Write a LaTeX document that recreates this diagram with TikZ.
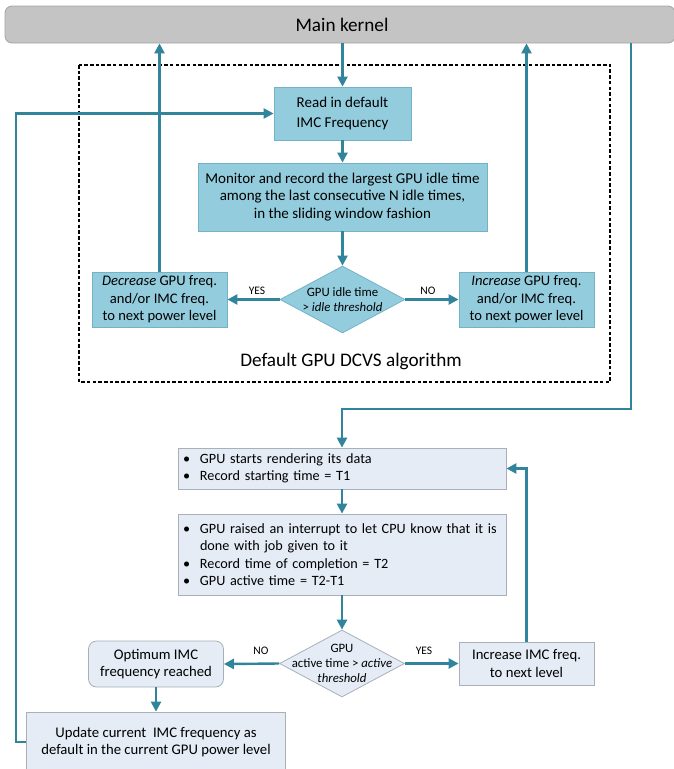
\documentclass[tikz,border=0pt]{standalone}
\usepackage{fontspec}
\setmainfont{Carlito}
\usepackage{xcolor}
\usetikzlibrary{arrows.meta}
\usetikzlibrary{shapes.geometric}

\definecolor{tealfill}{HTML}{93CDDD}
\definecolor{tealedge}{HTML}{72B3C7}
\definecolor{flowteal}{HTML}{31849B}
\definecolor{palefill}{HTML}{E5ECF6}
\definecolor{paleedge}{HTML}{A8B0B8}
\definecolor{kernelfill}{HTML}{C4C4C4}
\definecolor{kerneledge}{HTML}{A3A3A3}

\newcommand{\bul}{\makebox[17pt][l]{\textbullet}}

\begin{document}
\begin{tikzpicture}[x=1pt,y=-1pt,
    tealbox/.style={draw=tealedge,fill=tealfill,line width=0.8pt,align=center,inner sep=2pt,
                    font=\fontsize{14.6}{17.5}\selectfont},
    palebox/.style={draw=paleedge,fill=palefill,line width=0.8pt,align=center,inner sep=2pt,
                    font=\fontsize{14.7}{17.5}\selectfont},
    listbox/.style={palebox,align=left,inner xsep=5pt,text width=318pt,
                    font=\fontsize{14.2}{17.5}\selectfont},
    decision/.style={diamond,draw=#1,line width=0.8pt,inner sep=0pt},
    dtext/.style={font=\fontsize{12.8}{14.8}\selectfont,align=center,inner sep=0pt},
    answer/.style={font=\fontsize{11.5}{13}\selectfont,inner sep=0pt},
    title/.style={font=\fontsize{19.2}{22}\selectfont},
    flow/.style={draw=flowteal,line width=2.4pt,-{Triangle[length=10pt,width=10pt]}},
    dashframe/.style={draw=black,line width=2.2pt,dash pattern=on 3.5pt off 2.2pt}]
  \useasboundingbox (0,0) rectangle (673,769);

  % top part
  \node[title,draw=kerneledge,fill=kernelfill,line width=0.8pt,rounded corners=7pt,
        minimum width=670pt,minimum height=37pt,inner sep=0pt] (kernel) at (340,24.5) {};
  \node[title] (kerneltext) at (342,24.5) {Main kernel};
  \draw[dashframe] (79,65) rectangle (610,382);
  \node[title] (dcvs) at (351,361) {Default GPU DCVS algorithm};

  \node[tealbox,minimum width=137pt,minimum height=53pt,font=\fontsize{15}{17.5}\selectfont] (read) at (342.5,113.5)
      {Read in default\\[3pt]IMC Frequency};
  \node[tealbox,minimum width=289pt,minimum height=68pt,font=\fontsize{15}{17.5}\selectfont] (monitor) at (342.5,197)
      {Monitor and record the largest GPU idle time\\among the last consecutive N idle times,\\in the sliding window fashion};
  \node[decision=tealedge,fill=tealfill,minimum width=125pt,minimum height=67pt] (dia1) at (342.5,299.5) {};
  \node[dtext] (dia1text) at (dia1) {GPU idle time\\> \textit{idle threshold}};
  \node[tealbox,minimum width=135pt,minimum height=55pt] (dec) at (159.5,299.5)
      {\textit{Decrease} GPU freq.\\and/or IMC freq.\\to next power level};
  \node[tealbox,minimum width=135pt,minimum height=55pt] (inc) at (526.5,299.5)
      {\textit{Increase} GPU freq.\\and/or IMC freq.\\to next power level};
  \node[answer] (yes1) at (257,291) {YES};
  \node[answer] (no1) at (428,291) {NO};

  % bottom part
  \node[listbox,minimum height=41pt] (start) at (342,468.5)
      {\bul GPU starts rendering its data\\\bul Record starting time = T1};
  \node[listbox,minimum height=81pt] (raised) at (342,554.5)
      {\bul GPU raised an interrupt to let CPU know that it is\\\hspace*{17pt}done with job given to it\\\bul Record time of completion = T2\\\bul GPU active time = T2-T1};
  \node[decision=paleedge,fill=palefill,minimum width=125pt,minimum height=67pt] (dia2) at (342,663.5) {};
  \node[dtext] (dia2text) at (dia2) {GPU\\active time > \textit{active}\\\textit{threshold}};
  \node[palebox,rounded corners=8pt,minimum width=135pt,minimum height=46pt] (opt) at (156,664)
      {Optimum IMC\\frequency reached};
  \node[palebox,minimum width=135pt,minimum height=43pt] (incimc) at (526.5,663.5)
      {Increase IMC freq.\\to next level};
  \node[palebox,minimum width=259pt,minimum height=60pt] (upd) at (156,742)
      {Update current~ IMC frequency as\\default in the current GPU power level};
  \node[answer] (no2) at (261,651) {NO};
  \node[answer] (yes2) at (424,651) {YES};

  % connectors
  \draw[flow] (kernel.south -| read.north) -- (read.north);
  \draw[flow] (read) -- (monitor);
  \draw[flow] (monitor) -- (dia1);
  \draw[flow] (dia1.west) -- (dec.east);
  \draw[flow] (dia1.east) -- (inc.west);
  \draw[flow] (dec.north) -- (dec.north |- kernel.south);
  \draw[flow] (inc.north) -- (inc.north |- kernel.south);
  \coordinate (tap) at (631,43);
  \coordinate (bend) at (631,409);
  \draw[flow] (tap) -- (bend) -| (start.north);
  \draw[flow] (start) -- (raised);
  \draw[flow] (raised) -- (dia2);
  \draw[flow] (dia2.west) -- (opt.east);
  \draw[flow] (dia2.east) -- (incimc.west);
  \draw[flow] (incimc.north) |- (start.east);
  \draw[flow] (opt) -- (upd);
  \draw[flow] (upd.west) -- ++(-10,0) |- (read.west);
\end{tikzpicture}
\end{document}
